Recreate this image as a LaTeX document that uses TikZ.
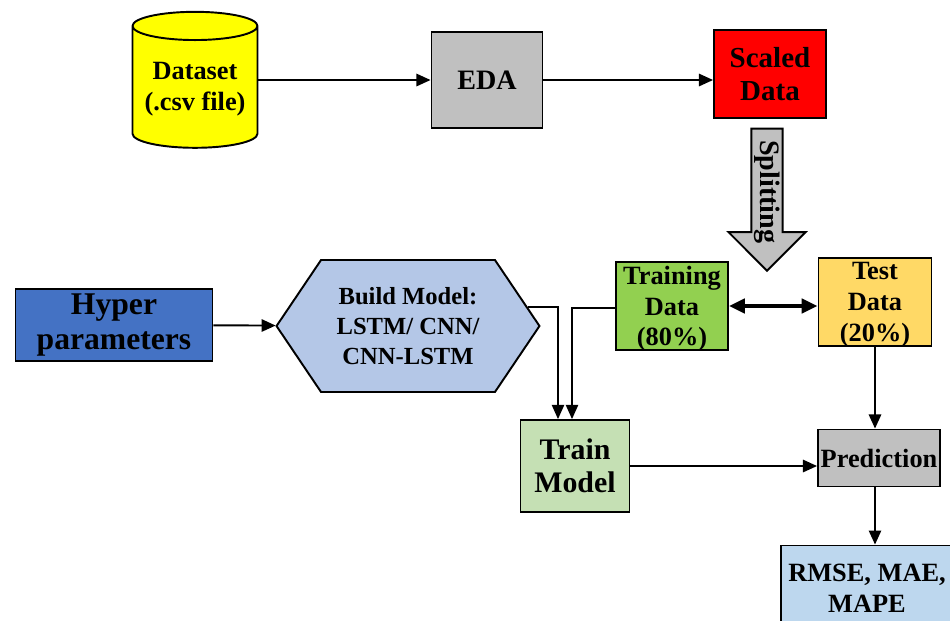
\documentclass[tikz,border=0pt]{standalone}
\usepackage{fontspec}
\setmainfont{Liberation Serif}
\usetikzlibrary{shapes,arrows.meta}

\definecolor{csvyellow}{HTML}{FFFF00}
\definecolor{boxgray}{HTML}{C0C0C0}
\definecolor{scalered}{HTML}{FF0000}
\definecolor{traingreen}{HTML}{92D050}
\definecolor{testyellow}{HTML}{FFD966}
\definecolor{hyperblue}{HTML}{4472C4}
\definecolor{modelblue}{HTML}{B4C7E7}
\definecolor{fitgreen}{HTML}{C5E0B4}
\definecolor{scoreblue}{HTML}{BDD7EE}

\begin{document}
\begin{tikzpicture}[x=0.02cm, y=-0.02cm, line width=1.1pt,
  >={Triangle[length=8pt,width=7pt]},
  box/.style={draw, line width=1.1pt, align=center, inner sep=1pt,
    font=\bfseries\fontsize{15}{17.5}\selectfont}]
\useasboundingbox (0,0) rectangle (950,620);

% first row
\node (ds) at (195,89) [box, cylinder, shape border rotate=90, aspect=0.27,
  minimum width=2.5cm, minimum height=2.72cm, fill=csvyellow] {Dataset\\(.csv file)};
\node (eda) at (487,80) [box, minimum width=2.22cm, minimum height=1.92cm,
  fill=boxgray, font=\bfseries\fontsize{16}{18}\selectfont] {EDA};
\node (sc) at (770,74) [box, minimum width=2.24cm, minimum height=1.76cm,
  fill=scalered, font=\bfseries\fontsize{16.5}{19}\selectfont] {Scaled\\Data};
\node (sp) at (767,272) [draw, line width=1.1pt, fill=boxgray, single arrow, rotate=-90,
  anchor=tip, minimum height=2.84cm, minimum width=0.78cm, single arrow head extend=0.46cm,
  inner sep=1pt, font=\bfseries\fontsize{16}{18}\selectfont] {Splitting};

% second row
\node (hp) at (114,325) [box, minimum width=3.94cm, minimum height=1.44cm,
  fill=hyperblue, font=\bfseries\fontsize{18}{20}\selectfont] {Hyper\\parameters};
\node (bm) at (408,326) [box, signal, signal to=east and west, signal pointer angle=112,
  minimum width=5.26cm, minimum height=2.64cm, fill=modelblue,
  font=\bfseries\fontsize{14}{17}\selectfont] {Build Model:\\LSTM/ CNN/\\CNN-LSTM};
\node (tr) at (672,306) [box, minimum width=2.24cm, minimum height=1.76cm,
  fill=traingreen, text depth=-2pt] {Training\\Data\\(80\%)};
\node (te) at (875,302) [box, minimum width=2.26cm, minimum height=1.76cm,
  fill=testyellow, text depth=-2pt] {Test\\Data\\(20\%)};

% third row
\node (tm) at (575,466) [box, minimum width=2.18cm, minimum height=1.84cm,
  fill=fitgreen, font=\bfseries\fontsize{17}{19}\selectfont] {Train\\Model};
\node (pr) at (879,458) [box, minimum width=2.44cm, minimum height=1.14cm,
  fill=boxgray] {Prediction};
\node (ev) at (867,588) [box, minimum width=3.44cm, minimum height=1.7cm,
  fill=scoreblue] {RMSE, MAE,\\MAPE};

\draw [->] (ds.east |- eda) -- (eda);
\draw [->] (eda) -- (sc.west |- eda);
\draw [->] (hp) -- (bm);
\draw [<->, line width=2.2pt, >={Triangle[length=9pt,width=8pt]}] (tr.east) -- (te.west |- tr.east);
\draw [->, line width=0.6pt] (bm.9) -| ([xshift=-0.34cm]tm.north);
\draw [->, line width=0.6pt] (tr.west |- 0,308) -| ([xshift=-0.06cm]tm.north);
\draw [->] (tm.east) -- (pr.west |- tm.east);
\draw [->] (te.south) -- (te.south |- pr.north);
\draw [->] (te |- pr.south) -- (te |- ev.north);
\end{tikzpicture}
\end{document}
